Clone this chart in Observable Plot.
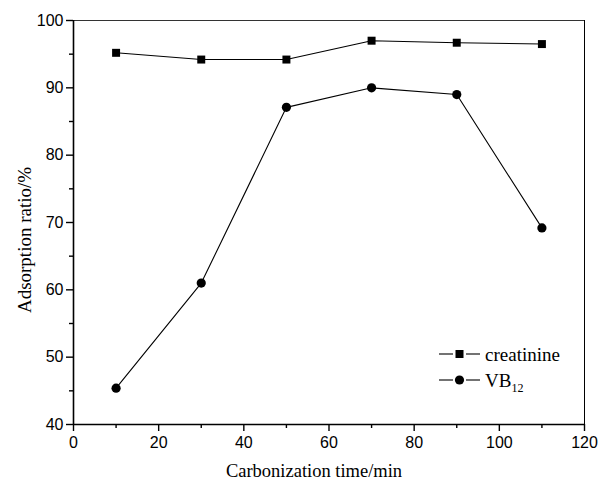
<!DOCTYPE html>
<html><head><meta charset="utf-8">
<script src="https://cdn.jsdelivr.net/npm/d3@7"></script>
<script src="https://cdn.jsdelivr.net/npm/@observablehq/plot@0.6"></script>
<style>body{margin:0;background:#fff}#wrap{position:relative;width:600px;height:481px}</style>
</head><body><div id="wrap"></div>
<script>
const times = [10, 30, 50, 70, 90, 110];
const creatinine = [95.2, 94.2, 94.2, 97.0, 96.7, 96.5];
const vb12 = [45.4, 61.0, 87.1, 90.0, 89.0, 69.2];
const xTicks = [0, 20, 40, 60, 80, 100, 120];
const xMinor = [10, 30, 50, 70, 90, 110];
const yTicks = [40, 50, 60, 70, 80, 90, 100];
const yMinor = [45, 55, 65, 75, 85, 95];
const seriesNames = ["creatinine", "VB"];
const xTitle = "Carbonization time/min";
const yTitle = "Adsorption ratio/%";

const dataC = times.map((t, i) => ({t, v: creatinine[i]}));
const dataV = times.map((t, i) => ({t, v: vb12[i]}));

const chart = Plot.plot({
  width: 600, height: 481,
  marginLeft: 73, marginRight: 16, marginTop: 20, marginBottom: 57,
  style: {fontFamily: "'Liberation Sans', Arial, sans-serif", fontSize: "16px", color: "#000", background: "#fff"},
  x: {domain: [0, 120]},
  y: {domain: [40, 100]},
  marks: [
    Plot.axisX({ticks: xTicks, tickSize: 7, tickPadding: 5, label: null, strokeWidth: 1.4}),
    Plot.axisX({ticks: xMinor, tickSize: 4, text: null, label: null, strokeWidth: 1.4}),
    Plot.axisY({ticks: yTicks, tickSize: 7, tickPadding: 3, label: null, strokeWidth: 1.4}),
    Plot.axisY({ticks: yMinor, tickSize: 4, text: null, label: null, strokeWidth: 1.4}),
    Plot.ruleY([100], {stroke: "#333", strokeWidth: 1}),
    Plot.ruleX([120], {stroke: "#000", strokeWidth: 1}),
    Plot.ruleY([40], {stroke: "#000", strokeWidth: 1.6}),
    Plot.ruleX([0], {stroke: "#000", strokeWidth: 1.6}),
    Plot.line(dataC, {x: "t", y: "v", stroke: "#000", strokeWidth: 1.1}),
    Plot.line(dataV, {x: "t", y: "v", stroke: "#000", strokeWidth: 1.1}),
    Plot.dot(dataC, {x: "t", y: "v", symbol: "square", r: 4.5, fill: "#000", stroke: "none"}),
    Plot.dot(dataV, {x: "t", y: "v", symbol: "circle", r: 4.6, fill: "#000", stroke: "none"})
  ]
});
document.getElementById("wrap").appendChild(chart);

const svg = d3.select(chart);
const serif = "'Liberation Serif', 'Times New Roman', serif";
svg.append("text").attr("x", 314).attr("y", 471).attr("dy", "0.35em")
  .attr("text-anchor", "middle").attr("font-family", serif).attr("font-size", 18.5).attr("fill", "#000").text(xTitle);
svg.append("text").attr("transform", "translate(24,240) rotate(-90)").attr("dy", "0.35em")
  .attr("text-anchor", "middle").attr("font-family", serif).attr("font-size", 19).attr("fill", "#000").text(yTitle);

// legend
const lg = svg.append("g").attr("font-family", serif).attr("font-size", 19).attr("fill", "#000").attr("text-anchor", "start");
const rows = [{y: 354, sym: "square"}, {y: 380, sym: "circle"}];
rows.forEach((r, i) => {
  lg.append("line").attr("x1", 439).attr("x2", 453).attr("y1", r.y).attr("y2", r.y).attr("stroke", "#000").attr("stroke-width", 1.1);
  lg.append("line").attr("x1", 466).attr("x2", 480).attr("y1", r.y).attr("y2", r.y).attr("stroke", "#000").attr("stroke-width", 1.1);
  if (r.sym === "square") lg.append("rect").attr("x", 455.5).attr("y", r.y - 4).attr("width", 8).attr("height", 8).attr("fill", "#000");
  else lg.append("circle").attr("cx", 459.5).attr("cy", r.y).attr("r", 4.6).attr("fill", "#000");
  const t = lg.append("text").attr("x", 485).attr("y", r.y).attr("dy", "0.35em").attr("text-anchor", "start").text(seriesNames[i]);
  if (i === 1) t.append("tspan").attr("font-size", 12).attr("dy", "0.45em").text("12");
});
</script></body></html>
